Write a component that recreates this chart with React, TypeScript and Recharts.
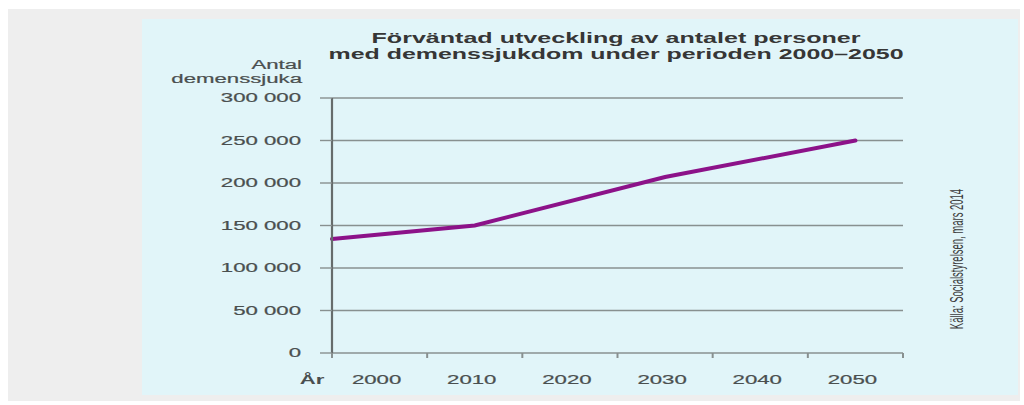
import React from "react"
import { LineChart, Line, XAxis, YAxis, CartesianGrid } from "recharts"

// Dementia projection, Socialstyrelsen 2014
const years = [1995, 2010, 2030, 2050]
const patients = [134000, 150000, 207000, 250000]

const yTicks = [0, 50000, 100000, 150000, 200000, 250000, 300000]
// tick marks sit between decades, labels on the decades
const xTicks = [1995, 2000, 2005, 2010, 2015, 2020, 2025, 2030, 2035, 2040, 2045, 2050, 2055]

const titleLines = [
  "Förväntad utveckling av antalet personer",
  "med demenssjukdom under perioden 2000–2050",
]
const yAxisTitle = ["Antal", "demenssjuka"]
const source = "Källa: Socialstyrelsen, mars 2014"

const data = years.map((year, i) => ({ year, value: patients[i] }))

// the original picture is stretched horizontally
const STRETCH = 1.85
const FONT = "'Liberation Sans', Arial, sans-serif"
const TICK_COLOR = "#4a4f4f"
const GRID_COLOR = "#889090"

const formatThousands = (v: number) =>
  String(v).replace(/\B(?=(\d{3})+(?!\d))/g, " ")

function YTick(props: any) {
  const { x, y, payload } = props
  return (
    <text
      transform={`translate(${x},${y}) scale(${STRETCH},1)`}
      textAnchor="end"
      dominantBaseline="central"
      fontSize={12}
      fontFamily={FONT}
      fill={TICK_COLOR}
      stroke={TICK_COLOR}
      strokeWidth={0.2}
    >
      {formatThousands(payload.value)}
    </text>
  )
}

function XTick(props: any) {
  const { x, y, payload } = props
  if (payload.value % 10 !== 0) {
    return <line x1={x} x2={x} y1={y} y2={y + 5} stroke={GRID_COLOR} strokeWidth={2} />
  }
  return (
    <text
      transform={`translate(${x - 3},${y + 27}) scale(${STRETCH},1)`}
      textAnchor="middle"
      dominantBaseline="central"
      fontSize={12}
      fontFamily={FONT}
      fill={TICK_COLOR}
      stroke={TICK_COLOR}
      strokeWidth={0.2}
    >
      {payload.value}
    </text>
  )
}

export default function App() {
  return (
    <div style={{ position: "absolute", left: 0, top: 0, width: 1024, height: 405, background: "#fff", overflow: "hidden" }}>
      <div style={{ position: "absolute", left: 8, top: 9, width: 1012, height: 392, background: "#eeeeee" }} />
      <div style={{ position: "absolute", left: 142, top: 19, width: 876, height: 376, background: "#e1f5f9" }} />

      <div style={{ position: "absolute", left: 0, top: 0 }}>
        <LineChart width={1024} height={405} data={data} margin={{ top: 98, right: 121, left: 0, bottom: 12 }}>
          <CartesianGrid vertical={false} stroke={GRID_COLOR} strokeWidth={1.4} />
          <XAxis
            dataKey="year"
            type="number"
            domain={[1995, 2055]}
            ticks={xTicks}
            interval={0}
            tickSize={0}
            tickMargin={0}
            axisLine={false}
            tickLine={false}
            tick={<XTick />}
            height={40}
          />
          <YAxis
            type="number"
            domain={[0, 300000]}
            ticks={yTicks}
            interval={0}
            width={332}
            tickSize={12}
            tickMargin={19}
            axisLine={{ stroke: "#666c6c", strokeWidth: 2.2 }}
            tickLine={{ stroke: GRID_COLOR, strokeWidth: 1.4 }}
            tick={<YTick />}
          />
          <Line
            type="linear"
            dataKey="value"
            stroke="#8c1289"
            strokeWidth={4}
            strokeLinecap="round"
            dot={false}
            isAnimationActive={false}
          />
        </LineChart>
      </div>

      <svg width={1024} height={405} style={{ position: "absolute", left: 0, top: 0, pointerEvents: "none" }}>
        {titleLines.map((t, i) => (
          <text
            key={t}
            x={616}
            y={37 + i * 16}
            textAnchor="middle"
            dominantBaseline="central"
            fontSize={15}
            fontWeight="bold"
            fontFamily={FONT}
            fill="#363636"
            textLength={i === 0 ? 489 : 575}
            lengthAdjust="spacingAndGlyphs"
          >
            {t}
          </text>
        ))}
        {yAxisTitle.map((t, i) => (
          <text
            key={t}
            transform={`translate(302,${65 + i * 14}) scale(${STRETCH},1)`}
            textAnchor="end"
            dominantBaseline="central"
            fontSize={12}
            fontFamily={FONT}
            fill={TICK_COLOR}
            stroke={TICK_COLOR}
            strokeWidth={0.2}
          >
            {t}
          </text>
        ))}
        <text
          transform={`translate(312,380) scale(${STRETCH},1)`}
          textAnchor="middle"
          dominantBaseline="central"
          fontSize={12}
          fontWeight="bold"
          fontFamily={FONT}
          fill={TICK_COLOR}
        >
          År
        </text>
        <text
          transform={`translate(957,259) scale(${STRETCH},1) rotate(-90)`}
          textAnchor="middle"
          dominantBaseline="central"
          fontSize={9.5}
          fontFamily={FONT}
          fill="#3c3c3c"
        >
          {source}
        </text>
      </svg>
    </div>
  )
}
